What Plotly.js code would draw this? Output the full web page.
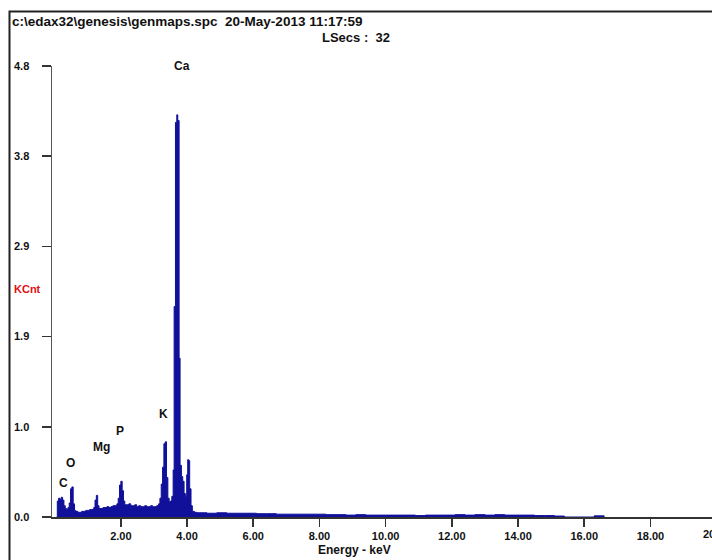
<!DOCTYPE html>
<html>
<head>
<meta charset="utf-8">
<script src="https://cdn.plot.ly/plotly-3.0.1.min.js"></script>
<style>html,body{margin:0;padding:0;background:#fff;overflow:hidden}</style>
</head>
<body>
<div id="chart" style="width:712px;height:560px"></div>
<script>
// Energy (keV) and counts (KCnt)
var energy = [0.06,0.08,0.12,0.16,0.20,0.24,0.28,0.32,0.36,0.40,0.44,0.48,0.52,0.56,0.60,0.64,0.70,0.76,0.82,0.88,0.94,1.00,1.06,1.12,1.18,1.22,1.26,1.30,1.34,1.40,1.46,1.52,1.58,1.64,1.70,1.76,1.82,1.88,1.92,1.96,2.00,2.04,2.08,2.12,2.18,2.24,2.30,2.36,2.42,2.48,2.54,2.60,2.66,2.72,2.78,2.84,2.90,2.96,3.02,3.08,3.14,3.18,3.22,3.26,3.30,3.34,3.38,3.42,3.46,3.50,3.54,3.58,3.61,3.65,3.69,3.72,3.76,3.79,3.83,3.87,3.91,3.95,3.99,4.02,4.05,4.08,4.12,4.16,4.22,4.30,4.60,4.90,5.20,5.50,5.80,6.10,6.40,6.70,7.00,7.30,7.60,7.90,8.20,8.50,8.80,9.10,9.40,9.70,10.00,10.30,10.60,10.90,11.20,11.50,11.80,12.10,12.40,12.70,13.00,13.30,13.60,13.90,14.20,14.50,14.80,15.10,15.40,15.70,16.00,16.30,16.60];
var counts = [0.00,0.17,0.20,0.19,0.21,0.18,0.12,0.09,0.08,0.10,0.15,0.30,0.32,0.14,0.07,0.06,0.05,0.05,0.06,0.06,0.07,0.07,0.08,0.08,0.10,0.18,0.23,0.12,0.09,0.09,0.10,0.10,0.11,0.10,0.11,0.12,0.12,0.14,0.20,0.34,0.38,0.28,0.17,0.13,0.13,0.14,0.12,0.12,0.13,0.11,0.12,0.11,0.11,0.12,0.11,0.11,0.12,0.11,0.11,0.12,0.14,0.20,0.35,0.53,0.78,0.80,0.42,0.20,0.16,0.17,0.22,0.50,2.24,4.20,4.28,4.22,1.69,0.55,0.43,0.38,0.25,0.22,0.45,0.61,0.60,0.30,0.12,0.06,0.05,0.045,0.04,0.045,0.04,0.04,0.04,0.035,0.035,0.03,0.03,0.03,0.03,0.03,0.025,0.025,0.02,0.025,0.02,0.02,0.02,0.02,0.02,0.015,0.02,0.02,0.02,0.025,0.02,0.025,0.02,0.025,0.02,0.02,0.02,0.015,0.015,0.01,0.0,0.0,0.0,0.012,0.0];

var xTickVals = [2,4,6,8,10,12,14,16,18];
var xTickText = ["2.00","4.00","6.00","8.00","10.00","12.00","14.00","16.00","18.00"];
var yTickVals = [0,0.96,1.92,2.88,3.84,4.8];
var yTickText = ["0.0","1.0","1.9","2.9","3.8","4.8"];

var elemNames = ["Ca","K","P","Mg","O","C"];
var elemX = [3.85,3.30,1.96,1.43,0.48,0.26];
var elemY = [4.80,1.10,0.92,0.74,0.57,0.36];

var headerLine1 = "c:\\edax32\\genesis\\genmaps.spc  20-May-2013 11:17:59";
var headerLine2 = "LSecs :  32";

var FONT = "Liberation Sans, Arial, sans-serif";
var BLUE = "#10109a";

var annotations = [];
for (var i = 0; i < elemNames.length; i++) {
  annotations.push({x: elemX[i], y: elemY[i], xref: "x", yref: "y", text: "<b>" + elemNames[i] + "</b>",
    showarrow: false, xanchor: "center", yanchor: "middle", font: {family: FONT, size: 12, color: "#111"}});
}
annotations.push({x: -0.0636, y: 1.0976, xref: "paper", yref: "paper", text: "<b>" + headerLine1 + "</b>",
  showarrow: false, xanchor: "left", yanchor: "middle", font: {family: FONT, size: 13.5, color: "#111"}});
annotations.push({x: 0.5152, y: 1.0643, xref: "paper", yref: "paper", text: "<b>" + headerLine2 + "</b>",
  showarrow: false, xanchor: "right", yanchor: "middle", font: {family: FONT, size: 13, color: "#111"}});
annotations.push({x: -0.0606, y: 0.5055, xref: "paper", yref: "paper", text: "<b>KCnt</b>",
  showarrow: false, xanchor: "left", yanchor: "middle", font: {family: FONT, size: 11, color: "#e01010"}});
annotations.push({x: 0.459, y: -0.0732, xref: "paper", yref: "paper", text: "<b>Energy - keV</b>",
  showarrow: false, xanchor: "center", yanchor: "middle", font: {family: FONT, size: 12, color: "#111"}});
annotations.push({x: 1.00702, y: -0.0377, xref: "paper", yref: "paper", text: "<b>20.00</b>",
  showarrow: false, xanchor: "center", yanchor: "middle", font: {family: FONT, size: 11, color: "#111"}});

var trace = {
  x: energy, y: counts, type: "scatter", mode: "lines",
  line: {color: BLUE, width: 1, shape: "hv"},
  fill: "tozeroy", fillcolor: BLUE, hoverinfo: "skip"
};

var layout = {
  width: 712, height: 560,
  margin: {l: 52, r: 0, t: 66, b: 43, pad: 0},
  paper_bgcolor: "#fff", plot_bgcolor: "#fff",
  showlegend: false,
  xaxis: {range: [-0.08, 19.86], tickvals: xTickVals, ticktext: xTickText,
    ticks: "outside", ticklen: 8, tickwidth: 1.5, tickcolor: "#333",
    showline: true, linecolor: "#333", linewidth: 2, showgrid: false, zeroline: false,
    tickfont: {family: FONT, size: 11, color: "#111", weight: "bold"}},
  yaxis: {range: [0, 4.8], tickvals: yTickVals, ticktext: yTickText,
    ticks: "outside", ticklen: 9, tickwidth: 1.5, tickcolor: "#333",
    showline: true, linecolor: "#555", linewidth: 1.5, showgrid: false, zeroline: false,
    ticklabelstandoff: 10,
    tickfont: {family: FONT, size: 11, color: "#111", weight: "bold"}},
  shapes: [{type: "rect", xref: "paper", yref: "paper", x0: -0.0644, x1: 1.1, y0: -0.2, y1: 1.1208,
    line: {color: "#222", width: 2}, fillcolor: "rgba(0,0,0,0)", layer: "above"}],
  annotations: annotations
};

Plotly.newPlot("chart", [trace], layout, {displayModeBar: false, staticPlot: true});
</script>
</body>
</html>
